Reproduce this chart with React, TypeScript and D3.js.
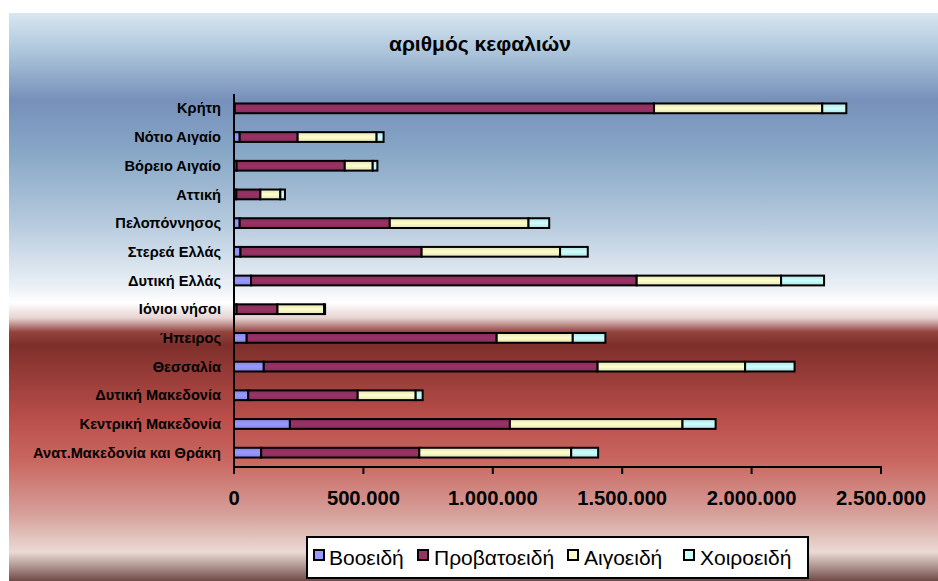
import React from "react";
import * as d3 from "d3";

const regions = [
  "Κρήτη",
  "Νότιο Αιγαίο",
  "Βόρειο Αιγαίο",
  "Αττική",
  "Πελοπόννησος",
  "Στερεά Ελλάς",
  "Δυτική Ελλάς",
  "Ιόνιοι νήσοι",
  "Ήπειρος",
  "Θεσσαλία",
  "Δυτική Μακεδονία",
  "Κεντρική Μακεδονία",
  "Ανατ.Μακεδονία και Θράκη",
];

const seriesNames = ["Βοοειδή", "Προβατοειδή", "Αιγοειδή", "Χοιροειδή"];
const seriesColors = ["#9999ff", "#993366", "#ffffcc", "#ccffff"];

// head counts per region, same order as `regions`
const cattle = [3000, 22000, 10000, 9000, 22000, 25000, 66000, 10000, 49000, 115000, 55000, 216000, 105000];
const sheep = [1620000, 224000, 418000, 93000, 580000, 700000, 1490000, 158000, 966000, 1290000, 423000, 850000, 611000];
const goats = [650000, 305000, 108000, 77000, 536000, 535000, 558000, 180000, 294000, 570000, 224000, 667000, 587000];
const pigs = [93000, 27000, 18000, 18000, 80000, 107000, 166000, 4000, 126000, 191000, 27000, 128000, 104000];

const xTicks = [0, 500000, 1000000, 1500000, 2000000, 2500000];

const W = 938;
const H = 581;

const fmt = (v: number) => d3.format(",")(v).replace(/,/g, ".");

export default function App() {
  const rows = regions.map((r, i) => ({
    region: r,
    [seriesNames[0]]: cattle[i],
    [seriesNames[1]]: sheep[i],
    [seriesNames[2]]: goats[i],
    [seriesNames[3]]: pigs[i],
  }));

  const stack = d3.stack<any>().keys(seriesNames);
  const layers = stack(rows);

  const x = d3.scaleLinear().domain([0, 2500000]).range([234, 881]);
  const y = d3.scaleBand().domain(regions).range([94, 467]).paddingInner(0.66).paddingOuter(0.33);

  const bgStops: [number, string][] = [
    [13, "#d8e7f1"],
    [55, "#a9c2d9"],
    [100, "#7790ba"],
    [150, "#86a6c6"],
    [220, "#b3c8dc"],
    [285, "#e9eff5"],
    [303, "#ffffff"],
    [318, "#e6d3d2"],
    [332, "#92433e"],
    [345, "#7e2f2b"],
    [420, "#bb4f4b"],
    [460, "#c9665f"],
    [515, "#d7a19c"],
    [552, "#ebdad4"],
    [566, "#b19792"],
    [581, "#6f4a47"],
  ];

  const legendItems = [
    { name: seriesNames[0], sx: 314, tx: 329 },
    { name: seriesNames[1], sx: 418, tx: 434 },
    { name: seriesNames[2], sx: 568, tx: 584 },
    { name: seriesNames[3], sx: 684, tx: 700 },
  ];

  return (
    <svg
      width={W}
      height={H}
      style={{ position: "absolute", left: 0, top: 0, background: "#ffffff" }}
      fontFamily="'Liberation Sans', Arial, sans-serif"
    >
      <defs>
        <linearGradient id="bg" gradientUnits="userSpaceOnUse" x1={0} y1={13} x2={0} y2={581}>
          {bgStops.map(([yy, c], i) => (
            <stop key={i} offset={(yy - 13) / (581 - 13)} stopColor={c} />
          ))}
        </linearGradient>
        {seriesColors.map((c, i) => (
          <linearGradient key={i} id={`bar${i}`} x1={0} y1={0} x2={0} y2={1}>
            <stop offset={0} stopColor={d3.color(c)!.darker(0.35).formatHex()} />
            <stop offset={0.5} stopColor={c} />
            <stop offset={1} stopColor={d3.color(c)!.darker(0.35).formatHex()} />
          </linearGradient>
        ))}
      </defs>

      <rect x={9} y={13} width={W - 9} height={H - 13} fill="url(#bg)" />

      <text x={480} y={51} textAnchor="middle" fontSize={21} fontWeight="bold" fill="#000">
        αριθμός κεφαλιών
      </text>

      {/* stacked bars */}
      {layers.map((layer, li) => (
        <g key={layer.key}>
          {layer.map((d, i) => {
            const w = x(d[1]) - x(d[0]);
            return (
              <rect
                key={i}
                x={x(d[0])}
                y={y(regions[i])}
                width={Math.max(w, 0)}
                height={y.bandwidth()}
                fill={`url(#bar${li})`}
                stroke="#000"
                strokeWidth={2}
              />
            );
          })}
        </g>
      ))}

      {/* category axis */}
      <line x1={x(0)} x2={x(0)} y1={94} y2={467} stroke="#000" strokeWidth={2} />
      {regions.map((r) => (
        <text
          key={r}
          x={221}
          y={y(r)! + y.bandwidth() / 2}
          dy="0.35em"
          textAnchor="end"
          fontSize={14.6}
          fontWeight="bold"
          fill="#000"
        >
          {r}
        </text>
      ))}

      {/* value axis */}
      <line x1={x(0) - 1} x2={x(2500000) + 1} y1={467} y2={467} stroke="#000" strokeWidth={2} />
      {xTicks.map((t) => (
        <g key={t}>
          <line x1={x(t)} x2={x(t)} y1={467} y2={474} stroke="#000" strokeWidth={2} />
          <text x={x(t)} y={505} textAnchor="middle" fontSize={20.2} fontWeight="bold" fill="#000">
            {fmt(t)}
          </text>
        </g>
      ))}

      {/* legend */}
      <rect x={307} y={537} width={501} height={41} fill="#ffffff" stroke="#000" strokeWidth={2} />
      {legendItems.map((it, i) => (
        <g key={it.name}>
          <rect x={it.sx} y={550} width={10} height={10} fill={seriesColors[i]} stroke="#000" strokeWidth={2} />
          <text x={it.tx} y={565} fontSize={21} fill="#000">
            {it.name}
          </text>
        </g>
      ))}
    </svg>
  );
}
